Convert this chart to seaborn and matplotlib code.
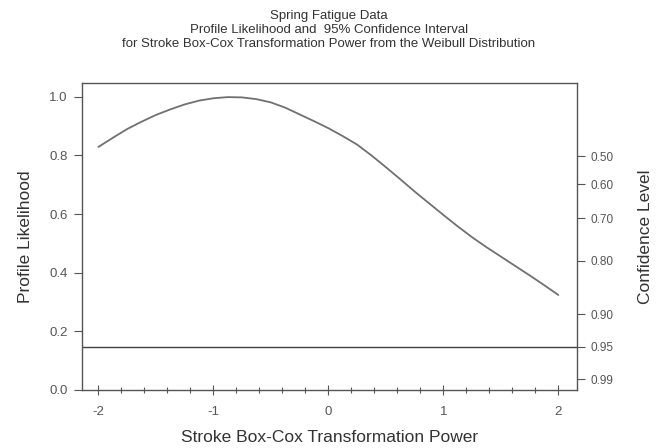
import numpy as np
import pandas as pd
import matplotlib
matplotlib.use("Agg")
import matplotlib.pyplot as plt
import seaborn as sns
from matplotlib.ticker import MultipleLocator

# Data
power = [-2.0, -1.875, -1.75, -1.625, -1.5, -1.375, -1.25, -1.125, -1.0, -0.875,
         -0.75, -0.625, -0.5, -0.375, -0.25, -0.125, 0.0, 0.125, 0.25, 0.375,
         0.5, 0.625, 0.75, 0.875, 1.0, 1.125, 1.25, 1.375, 1.5, 1.625,
         1.75, 1.875, 2.0]
likelihood = [0.829, 0.860, 0.890, 0.915, 0.938, 0.957, 0.974, 0.987, 0.995, 0.999,
              0.998, 0.992, 0.981, 0.963, 0.940, 0.917, 0.893, 0.866, 0.837, 0.800,
              0.760, 0.719, 0.677, 0.637, 0.597, 0.558, 0.521, 0.487, 0.455, 0.423,
              0.391, 0.358, 0.324]
ci_cutoff = 0.1465
conf_levels = ["0.50", "0.60", "0.70", "0.80", "0.90", "0.95", "0.99"]
conf_positions = [0.797, 0.702, 0.585, 0.440, 0.259, 0.147, 0.036]
x_ticks = [-2, -1, 0, 1, 2]
y_ticks = [0.0, 0.2, 0.4, 0.6, 0.8, 1.0]

sns.set_style("ticks")
plt.rcParams['font.family'] = ['Liberation Sans', 'DejaVu Sans']

gray = "#555555"
df = pd.DataFrame({"power": power, "likelihood": likelihood})

fig = plt.figure(figsize=(6.62, 4.48), dpi=100)
ax = fig.add_axes([0.1234, 0.1295, 0.8716 - 0.1234, 0.814 - 0.1295])

sns.lineplot(data=df, x="power", y="likelihood", ax=ax, color="#707070", linewidth=1.3)
ax.axhline(ci_cutoff, color="#404040", linewidth=1.0)

ax.set_xlim(-2.145, 2.162)
ax.set_ylim(0.0, 1.046)
ax.set_xticks(x_ticks)
ax.set_xticklabels([str(t) for t in x_ticks])
ax.xaxis.set_minor_locator(MultipleLocator(0.2))
ax.set_yticks(y_ticks)
ax.set_yticklabels([f"{t:.1f}" for t in y_ticks])

for s in ax.spines.values():
    s.set_color(gray)
    s.set_linewidth(1.0)

ax.tick_params(axis="y", which="major", direction="out", length=6, width=0.8,
               colors=gray, labelsize=9.5, pad=4)
ax.tick_params(axis="x", which="major", direction="inout", length=7, width=0.8,
               colors=gray, labelsize=9.5, pad=8)
ax.tick_params(axis="x", which="minor", direction="inout", length=4, width=0.8,
               colors=gray)

ax.set_xlabel("Stroke Box-Cox Transformation Power", fontsize=12.5, color="#333333", labelpad=9)
ax.set_ylabel("Profile Likelihood", fontsize=12.5, color="#333333", labelpad=12)

ax2 = ax.twinx()
ax2.set_ylim(ax.get_ylim())
ax2.set_yticks(conf_positions)
ax2.set_yticklabels(conf_levels)
ax2.tick_params(axis="y", direction="out", length=6, width=0.8, colors=gray,
                labelsize=8.5, pad=4)
for s in ax2.spines.values():
    s.set_visible(False)
ax2.set_ylabel("Confidence Level", fontsize=12.5, color="#333333", labelpad=17)

fig.text(0.497, 0.965, "Spring Fatigue Data", ha="center", va="center",
         fontsize=9.5, color="#333333")
fig.text(0.497, 0.934, "Profile Likelihood and  95% Confidence Interval", ha="center",
         va="center", fontsize=9.5, color="#333333")
fig.text(0.497, 0.902, "for Stroke Box-Cox Transformation Power from the Weibull Distribution",
         ha="center", va="center", fontsize=9.5, color="#333333")

fig.savefig("out.png", dpi=100)
